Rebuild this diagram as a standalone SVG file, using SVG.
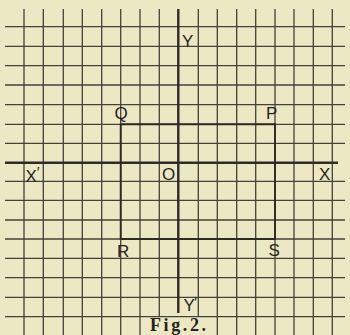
<svg xmlns="http://www.w3.org/2000/svg" width="350" height="335" viewBox="0 0 350 335">
<style>
.g{stroke:#45403a;stroke-width:1.3;fill:none}
.ax{stroke:#2e2a26;stroke-width:2.4;fill:none}
.rc{stroke:#2e2a26;stroke-width:1.9;fill:none}
.lb{font-family:"Liberation Sans",Arial,sans-serif;font-size:17px;fill:#262321}
.pr{font-size:15px}
.fig{font-family:"Liberation Serif","Times New Roman",serif;font-size:18px;font-weight:bold;fill:#262321}
</style>
<rect width="350" height="335" fill="#ece8c3"/>
<g id="grid" class="g">
<path d="M24 9V335M43.3 9V335M63.3 9V335M82.3 9V335M101.7 9V335M120.7 9V335M140 9V335M159.3 9V317M198.3 9V317M217.3 9V335M236.7 9V335M255.7 9V335M275 9V335M294 9V335M313.3 9V335M332.3 9V335"/>
<path d="M5 26.7H345M5 46.3H345M5 65.7H345M5 85H345M5 104.7H345M5 124.3H345M5 143.3H345M5 181.3H345M5 200.3H345M5 220H345M5 239H345M5 258.3H345M5 277.7H345M5 297.3H345M5 316.7H345"/>
</g>
<g id="axes" class="ax">
<path d="M5 162.7H338"/>
<path d="M178.3 9V313"/>
</g>
<g id="rect" class="rc">
<path d="M120.7 124.3H275V239H120.7Z"/>
</g>
<g id="labels">
<text id="Y" class="lb" x="182" y="47">Y</text>
<text id="Q" class="lb" x="114.5" y="119">Q</text>
<text id="P" class="lb" x="266" y="118.5">P</text>
<text id="Xp" class="lb" x="25.5" y="182">X<tspan class="pr" dy="-5">′</tspan></text>
<text id="O" class="lb" x="162" y="179.5">O</text>
<text id="X" class="lb" x="319" y="180">X</text>
<text id="R" class="lb" x="117" y="256.5">R</text>
<text id="S" class="lb" x="268.5" y="256">S</text>
<text id="Yp" class="lb" x="183.5" y="311">Y<tspan class="pr" dx="-0.5" dy="-4">′</tspan></text>
<text id="fig" class="fig" x="150" y="331" textLength="56">Fig.2.</text>
</g>
</svg>
